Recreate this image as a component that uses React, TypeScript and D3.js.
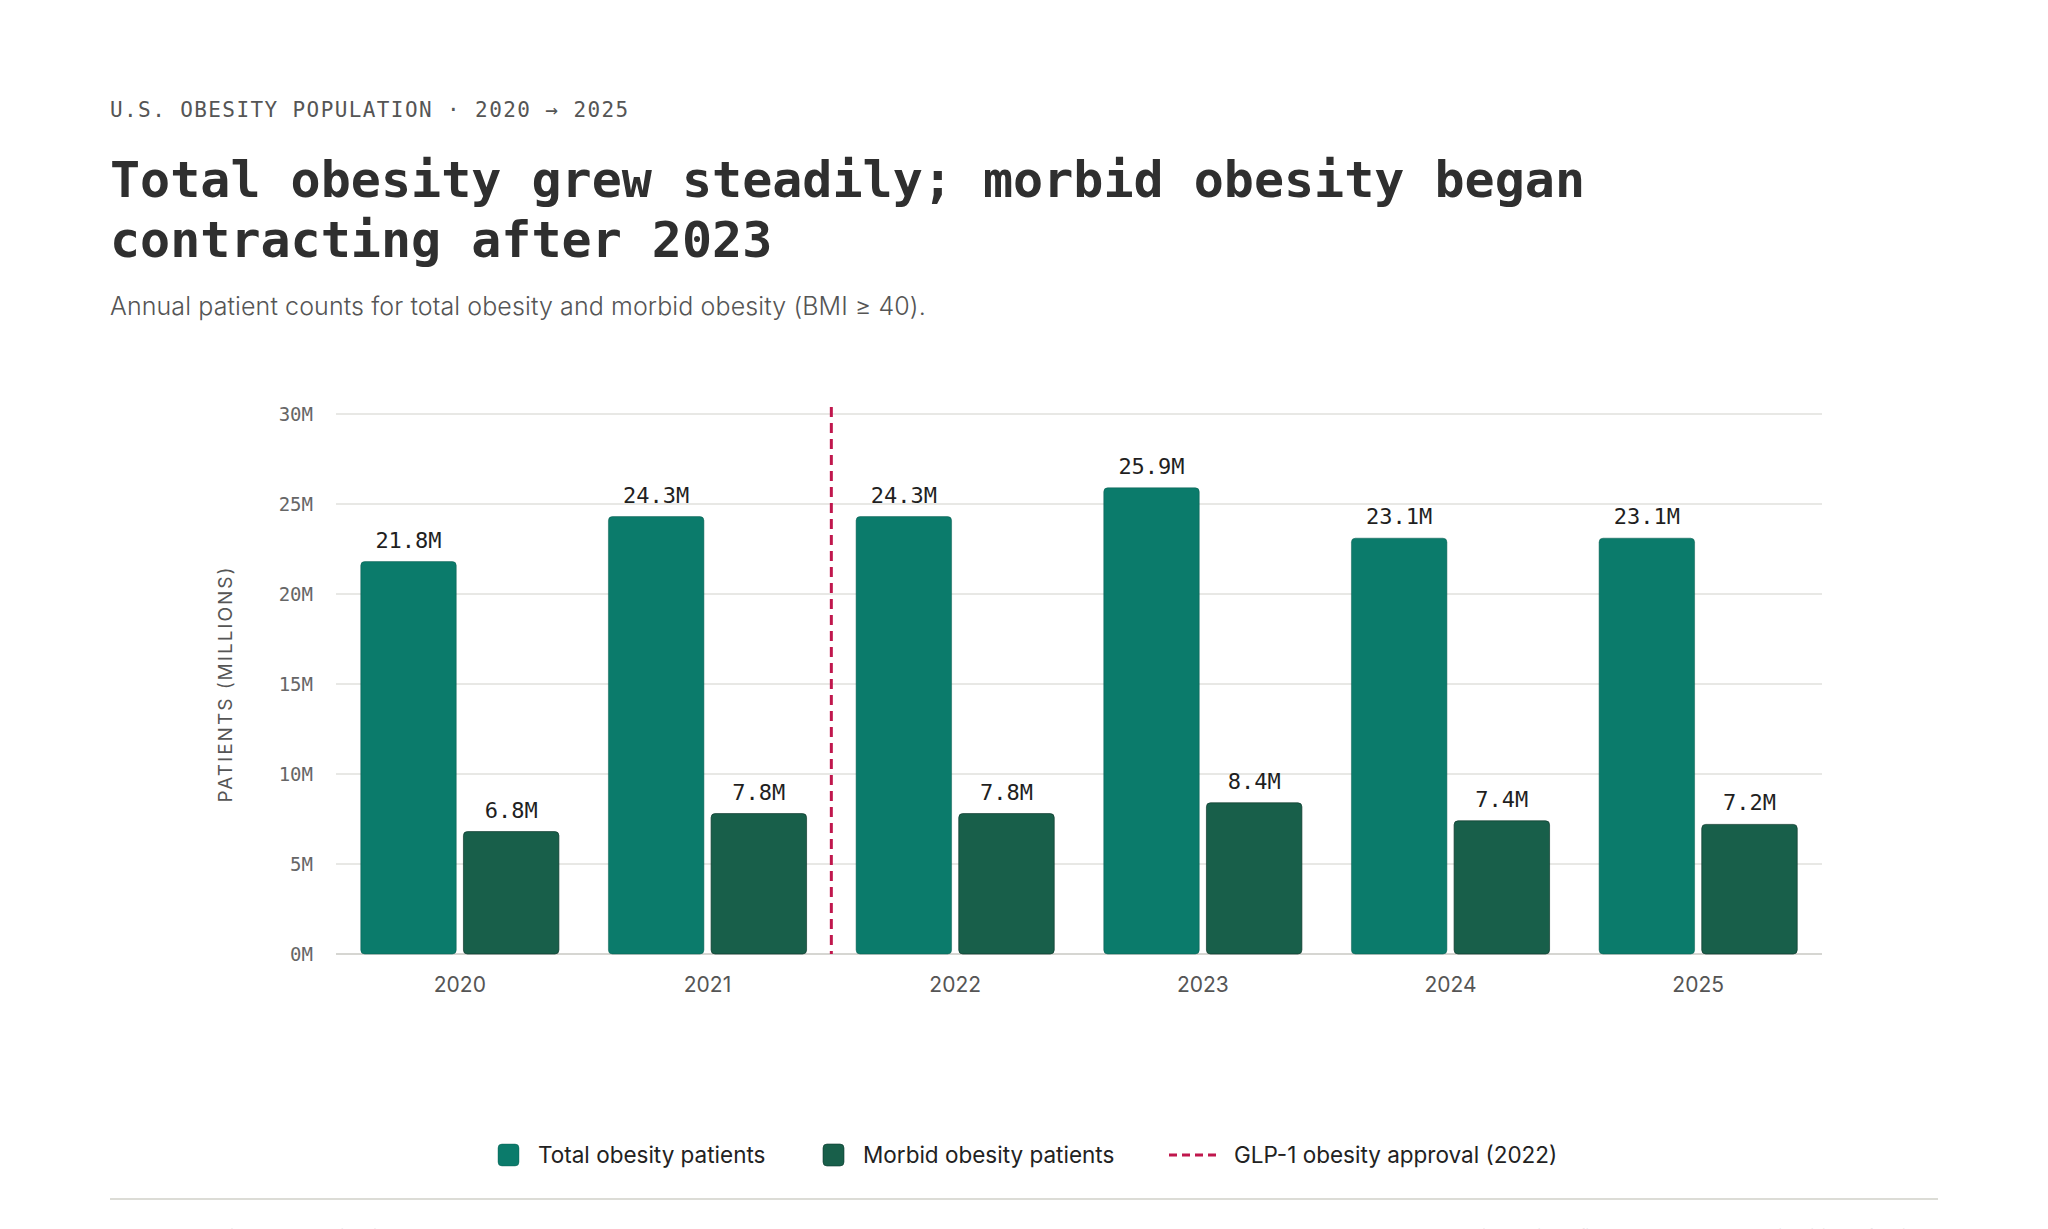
import React from "react";
import * as d3 from "d3";

const years = ["2020", "2021", "2022", "2023", "2024", "2025"];
const totalPatients = [21.8, 24.3, 24.3, 25.9, 23.1, 23.1];
const morbidPatients = [6.8, 7.8, 7.8, 8.4, 7.4, 7.2];
const yTicks = [0, 5, 10, 15, 20, 25, 30];
const approvalYear = "2022";
const seriesNames = ["Total obesity patients", "Morbid obesity patients"];
const markerName = "GLP-1 obesity approval (2022)";

const W = 2048;
const H = 1229;
const MONO = "'DejaVu Sans Mono', monospace";
const SANS = "Inter, 'Noto Sans', sans-serif";
const C_TOTAL = "#0b7b6b";
const C_MORBID = "#185f4a";
const C_MARK = "#c0174d";

export default function App() {
  const plot = { left: 336, right: 1822, top: 414, bottom: 954 };
  const x0 = d3.scaleBand<string>().domain(years).range([plot.left, plot.right]).paddingInner(0.2).paddingOuter(0.1);
  const x1 = d3.scaleBand<string>().domain(["total", "morbid"]).range([0, x0.bandwidth()]).paddingInner(0.07).paddingOuter(0);
  const y = d3.scaleLinear().domain([0, 30]).range([plot.bottom, plot.top]);
  const step = x0.step();
  const markX = (x0(approvalYear) as number) - (step * 0.2) / 2;

  const rows = years.map((yr, i) => ({ yr, total: totalPatients[i], morbid: morbidPatients[i] }));

  return (
    <div style={{ position: "absolute", left: 0, top: 0, width: W, height: H, background: "#fff" }}>
      <svg width={W} height={H} viewBox={`0 0 ${W} ${H}`} style={{ display: "block" }}>
        <rect x={0} y={0} width={W} height={H} fill="#fff" />
        <text x={110} y={117} fontFamily={MONO} fontSize={21} letterSpacing={1.4} fill="#555">
          U.S. OBESITY POPULATION · 2020 → 2025
        </text>
        <text x={110} y={197} fontFamily={MONO} fontSize={50} fontWeight="bold" fill="#2f2f2f">
          Total obesity grew steadily; morbid obesity began
        </text>
        <text x={110} y={257} fontFamily={MONO} fontSize={50} fontWeight="bold" fill="#2f2f2f">
          contracting after 2023
        </text>
        <text x={110} y={315} fontFamily={SANS} fontSize={25} fontWeight={300} letterSpacing={0.1} fill="#555">
          Annual patient counts for total obesity and morbid obesity (BMI ≥ 40).
        </text>

        {/* grid */}
        {yTicks.map((t) => (
          <g key={t}>
            <line x1={plot.left} x2={plot.right} y1={y(t)} y2={y(t)} stroke={t === 0 ? "#d6d6d2" : "#e0e0dc"} strokeWidth={t === 0 ? 2 : 1.5} />
            <text x={313} y={y(t)} dy="0.35em" textAnchor="end" fontFamily={MONO} fontSize={19} fill="#666">
              {`${t}M`}
            </text>
          </g>
        ))}

        <text
          transform={`translate(232, ${(plot.top + plot.bottom) / 2}) rotate(-90)`}
          textAnchor="middle"
          fontFamily={SANS}
          fontSize={19}
          letterSpacing={2}
          fill="#555"
        >
          PATIENTS (MILLIONS)
        </text>

        {/* bars */}
        {rows.map((r) => {
          const gx = x0(r.yr) as number;
          const bw = x1.bandwidth();
          const tx = gx + (x1("total") as number);
          const mx = gx + (x1("morbid") as number);
          return (
            <g key={r.yr}>
              <rect x={tx} y={y(r.total)} width={bw} height={y(0) - y(r.total)} rx={4} fill={C_TOTAL} stroke="#0a5d51" strokeOpacity={0.5} strokeWidth={1} />
              <rect x={mx} y={y(r.morbid)} width={bw} height={y(0) - y(r.morbid)} rx={4} fill={C_MORBID} stroke="#0f3b2e" strokeOpacity={0.7} strokeWidth={1} />
              <text x={tx + bw / 2} y={y(r.total) - 14} textAnchor="middle" fontFamily={MONO} fontSize={22} fill="#1f1f1f">
                {`${r.total.toFixed(1)}M`}
              </text>
              <text x={mx + bw / 2} y={y(r.morbid) - 14} textAnchor="middle" fontFamily={MONO} fontSize={22} fill="#1f1f1f">
                {`${r.morbid.toFixed(1)}M`}
              </text>
              <text x={gx + x0.bandwidth() / 2} y={992} textAnchor="middle" fontFamily={SANS} fontSize={21} fill="#555">
                {r.yr}
              </text>
            </g>
          );
        })}

        {/* approval marker */}
        <line x1={markX} x2={markX} y1={407} y2={plot.bottom} stroke={C_MARK} strokeWidth={3} strokeDasharray="10 6" />

        {/* legend */}
        <g fontFamily={SANS} fontSize={22.5} fill="#222">
          <rect x={498} y={1144} width={21} height={22} rx={4} fill={C_TOTAL} stroke="#0a5d51" strokeOpacity={0.4} />
          <text x={538} y={1155} dy="0.35em">{seriesNames[0]}</text>
          <rect x={823} y={1144} width={21} height={22} rx={4} fill={C_MORBID} stroke="#0f3b2e" strokeOpacity={0.6} />
          <text x={863} y={1155} dy="0.35em">{seriesNames[1]}</text>
          <line x1={1169} x2={1217} y1={1155} y2={1155} stroke={C_MARK} strokeWidth={3} strokeDasharray="8 5" />
          <text x={1234} y={1155} dy="0.35em">{markerName}</text>
        </g>

        <line x1={110} x2={1938} y1={1199} y2={1199} stroke="#dcdcd6" strokeWidth={2} />
        <text x={110} y={1241} fontFamily={SANS} fontSize={16} fill="#aaa">
          Source: U.S. claims data, obesity diagnoses 2020–2025
        </text>
        <text x={1938} y={1241} textAnchor="end" fontFamily={SANS} fontSize={16} fill="#aaa">
          Morbid obesity defined as BMI ≥ 40; counts in millions of patients
        </text>
      </svg>
    </div>
  );
}
